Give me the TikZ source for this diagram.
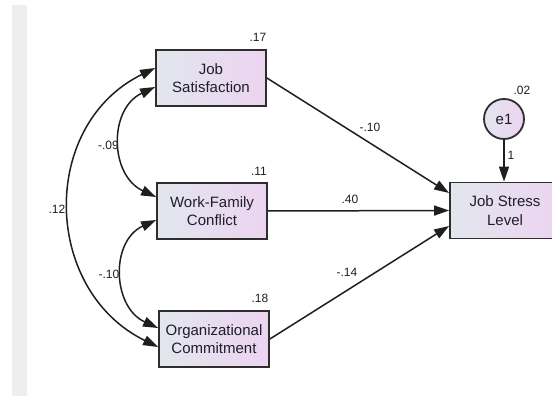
\documentclass[tikz,border=0pt]{standalone}
\usepackage{fontspec}
\setmainfont{Liberation Sans}
\usetikzlibrary{arrows.meta}
\definecolor{txt}{HTML}{1E1E2A}
\definecolor{boxL}{HTML}{E2E6ED}
\definecolor{boxR}{HTML}{ECD4F1}
\definecolor{strip}{HTML}{EEEEEE}
\definecolor{edge}{HTML}{2E2E2E}
\begin{document}
\begin{tikzpicture}[x=1pt,y=-1pt,
  varbox/.style={draw=edge, line width=1.8pt, left color=boxL, right color=boxR,
    minimum width=110pt, minimum height=56pt, inner sep=0pt, align=center,
    font=\fontsize{15}{18.5}\selectfont, text=txt},
  errc/.style={circle, draw=edge, line width=1.8pt, left color=boxL, right color=boxR,
    minimum size=40pt, inner sep=0pt, font=\fontsize{15}{18}\selectfont, text=txt},
  lbl/.style={inner sep=0pt, font=\fontsize{12}{14}\selectfont, text=txt},
  path/.style={draw=black!88, line width=1.5pt, -{Triangle[length=15pt,width=10pt]}},
  cov/.style={draw=black!88, line width=1.5pt, {Triangle[length=15pt,width=10pt]}-{Triangle[length=15pt,width=10pt]}}
]
\useasboundingbox (0,0) rectangle (552,396);
\clip (0,0) rectangle (552,396);
\fill[white] (0,0) rectangle (552,396);
\fill[strip] (12,5) rectangle (27,396);

\node[varbox] (js)  at (211,78)  {Job\\Satisfaction};
\node[varbox] (wfc) at (212,211) {Work-Family\\Conflict};
\node[varbox] (oc)  at (214,339) {Organizational\\Commitment};
\node[varbox] (jsl) at (505,210.5) {Job Stress\\Level};
\node[errc] (e1) at (504,119) {e1};

\node[lbl] (l17) at (258,37.5) {.17};
\node[lbl] (l11) at (259,171) {.11};
\node[lbl] (l18) at (260,298) {.18};
\node[lbl] (l02) at (522,90.5) {.02};
\node[lbl] (l1)  at (511,155) {1};
\node[lbl] (ljs) at (370,127) {-.10};
\node[lbl] (lwf) at (350,199.5) {.40};
\node[lbl] (loc) at (347,272) {-.14};
\node[lbl] (c1)  at (108.5,145.5) {-.09};
\node[lbl] (c2)  at (57,209) {.12};
\node[lbl] (c3)  at (109,274) {-.10};

\draw[path] (js.east) -- ([yshift=17.5pt]jsl.west);
\draw[path] (wfc.east) -- (jsl.west);
\draw[path] (oc.east) -- ([yshift=-15.5pt]jsl.west);
\draw[path] (e1.south) -- (jsl.north -| e1.south);

\draw[cov] ([yshift=-9pt]js.west) .. controls +(-46.7,21.8) and +(-46.7,-21.8) .. ([yshift=14pt]wfc.west);
\draw[cov] ([yshift=-9pt]wfc.west) .. controls +(-46,21) and +(-46,-21) .. ([yshift=11pt]oc.west);
\draw[cov] ([yshift=10pt]js.west) .. controls +(-116,56.8) and +(-116,-56.8) .. ([yshift=-8pt]oc.west);
\end{tikzpicture}
\end{document}
